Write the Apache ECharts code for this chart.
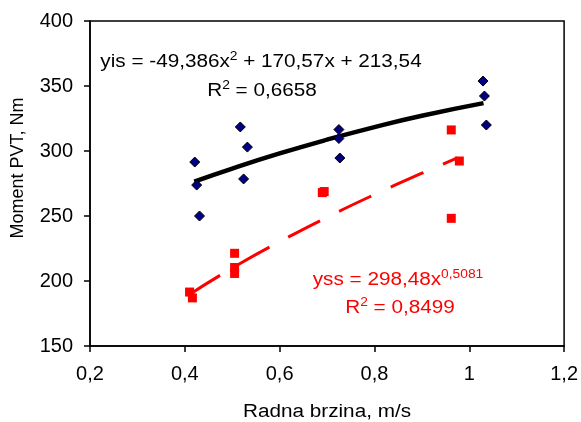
<!DOCTYPE html>
<html><head><meta charset="utf-8">
<script src="https://cdn.jsdelivr.net/npm/echarts@6/dist/echarts.min.js"></script>
<style>html,body{margin:0;padding:0;background:#fff}#c{width:581px;height:422px}</style>
</head><body><div id="c"></div>
<script>
// Blue diamonds (yis)
const isX = [0.421, 0.425, 0.431, 0.517, 0.532, 0.524, 0.725, 0.725, 0.727, 1.029, 1.032, 1.036];
const isY = [291.5, 273.8, 250.0, 318.5, 303.0, 278.5, 316.5, 309.6, 294.6, 353.8, 342.3, 320.0];
// Red squares (yss)
const ssX = [0.410, 0.416, 0.505, 0.505, 0.505, 0.690, 0.694, 0.962, 0.962, 0.979];
const ssY = [191.5, 187.0, 221.3, 210.4, 205.8, 268.0, 268.8, 316.2, 248.2, 292.3];
// Trendlines
const isTrendX = [0.42, 0.5, 0.6, 0.7, 0.8, 0.9, 1.03];
const isTrendY = [276.5, 286.5, 298.1, 308.7, 318.4, 327.1, 336.8];
const ssTrendX = [0.41, 0.5, 0.6, 0.7, 0.8, 0.9, 0.975];
const ssTrendY = [189.7, 209.9, 230.2, 249.0, 266.5, 282.9, 294.7];
// Axes
const xTicks = [0.2, 0.4, 0.6, 0.8, 1.0, 1.2];
const yTicks = [150, 200, 250, 300, 350, 400];
const xTitle = 'Radna brzina, m/s';
const yTitle = 'Moment PVT, Nm';

const zip = (a, b) => a.map((v, i) => [v, b[i]]);
const FF = "'Liberation Sans', Arial, sans-serif";
const SX = 1.15;
const chart = echarts.init(document.getElementById('c'), null, {renderer: 'canvas'});
const fmt = v => String(+(+v).toFixed(1)).replace('.', ',');
const sup = (col) => ({
  a: {fontSize: 18, fontFamily: FF, fill: col, lineHeight: 22},
  s: {fontSize: 12, fontFamily: FF, fill: col, verticalAlign: 'top', lineHeight: 8}
});
chart.setOption({
  animation: false,
  backgroundColor: '#fff',
  grid: {left: 90, right: 15, top: 21, bottom: 76, show: true, borderColor: '#000', borderWidth: 1.5},
  xAxis: {
    type: 'value', min: xTicks[0], max: xTicks[xTicks.length - 1], interval: 0.2,
    axisLine: {show: true, onZero: false, lineStyle: {color: '#000', width: 1.5}},
    axisTick: {show: true, inside: false, length: 6, lineStyle: {color: '#000', width: 1.5}},
    splitLine: {show: false},
    axisLabel: {color: '#000', fontSize: 20, fontFamily: FF, margin: 18, formatter: fmt}
  },
  yAxis: {
    type: 'value', min: yTicks[0], max: yTicks[yTicks.length - 1], interval: 50,
    axisLine: {show: true, onZero: false, lineStyle: {color: '#000', width: 1.5}},
    axisTick: {show: true, inside: false, length: 6, lineStyle: {color: '#000', width: 1.5}},
    splitLine: {show: false},
    axisLabel: {color: '#000', fontSize: 20, fontFamily: FF, margin: 17}
  },
  series: [
    {type: 'line', data: zip(isTrendX, isTrendY), smooth: true, symbol: 'none', z: 2,
     lineStyle: {color: '#000', width: 4.5}},
    {type: 'line', data: zip(ssTrendX, ssTrendY), smooth: true, symbol: 'none', z: 2,
     lineStyle: {color: '#ff0000', width: 3, type: [36, 21]}},
    {type: 'scatter', data: zip(isX, isY), symbol: 'diamond', symbolSize: 10, z: 3,
     itemStyle: {color: '#000080', borderColor: '#000', borderWidth: 1, opacity: 1}},
    {type: 'scatter', data: zip(ssX, ssY), symbol: 'rect', symbolSize: 9, z: 3,
     itemStyle: {color: '#ff0000', opacity: 1}}
  ],
  graphic: [
    {type: 'text', x: 261, y: 62, scaleX: SX, style: {text: '{a|yis = -49,386x}{s|2}{a| + 170,57x + 213,54}', rich: sup('#000'), align: 'center', verticalAlign: 'middle'}},
    {type: 'text', x: 262, y: 91, scaleX: SX, style: {text: '{a|R}{s|2}{a| = 0,6658}', rich: sup('#000'), align: 'center', verticalAlign: 'middle'}},
    {type: 'text', x: 398, y: 280, scaleX: SX, style: {text: '{a|yss = 298,48x}{s|0,5081}', rich: sup('#ff0000'), align: 'center', verticalAlign: 'middle'}},
    {type: 'text', x: 400, y: 308, scaleX: SX, style: {text: '{a|R}{s|2}{a| = 0,8499}', rich: sup('#ff0000'), align: 'center', verticalAlign: 'middle'}},
    {type: 'text', x: 327, y: 412, scaleX: SX, style: {text: xTitle, font: '18px ' + FF, fill: '#000', align: 'center', verticalAlign: 'middle'}},
    {type: 'text', x: 18, y: 168, rotation: Math.PI / 2, style: {text: yTitle, font: '18px ' + FF, fill: '#000', align: 'center', verticalAlign: 'middle'}}
  ]
});
</script></body></html>
